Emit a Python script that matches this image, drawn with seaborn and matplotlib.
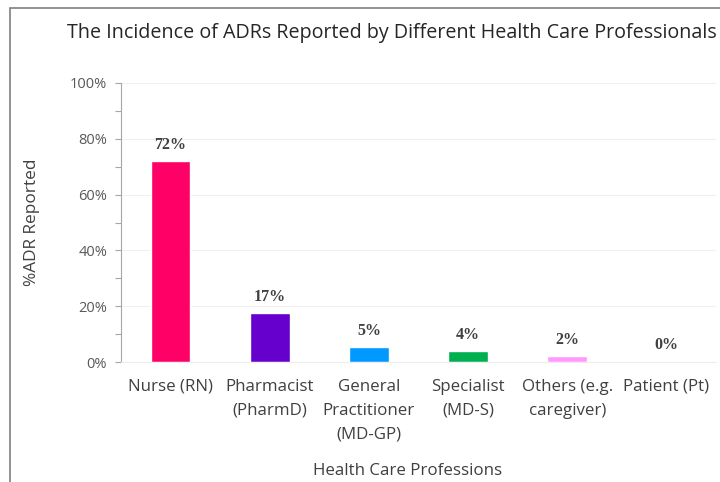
import matplotlib
matplotlib.use("Agg")
import matplotlib.pyplot as plt
import seaborn as sns
import pandas as pd
from matplotlib.patches import Rectangle

categories = ["Nurse (RN)", "Pharmacist\n(PharmD)", "General\nPractitioner\n(MD-GP)",
              "Specialist\n(MD-S)", "Others (e.g.\ncaregiver)", "Patient (Pt)"]
values = [72.0, 17.5, 5.3, 3.8, 2.1, 0.3]
value_labels = ["72%", "17%", "5%", "4%", "2%", "0%"]
colors = ["#FF0066", "#6600CC", "#0099FF", "#00B050", "#FF99FF", "#FFFF00"]
yticks = [0, 20, 40, 60, 80, 100]

df = pd.DataFrame({"cat": categories, "val": values})

sns.set_theme(style="white")
plt.rcParams['font.family'] = ["Open Sans", "DejaVu Sans"]

fig = plt.figure(figsize=(7.2, 4.82), dpi=100)
ax = fig.add_axes([121/720, 1-362/482, (716-121)/720, (362-83)/482])

sns.barplot(data=df, x="cat", y="val", hue="cat", palette=colors, legend=False,
            width=0.4, saturation=1, ax=ax)

ax.set_xlim(-0.5, 5.5)
ax.set_ylim(0, 100)
ax.set_yticks(yticks)
ax.set_yticklabels([f"{t}%" for t in yticks], fontsize=10.5, color="#595959")
ax.set_yticks(range(0, 101, 10), minor=True)
ax.tick_params(axis="y", which="both", direction="out", length=4, width=0.8,
               color="#A6A6A6", left=True, pad=6)
ax.tick_params(axis="x", length=0, pad=12)
ax.set_xticks(range(len(categories)))
ax.set_xticklabels(categories, fontsize=12.2, color="#404040", linespacing=1.68)
for t in yticks[1:]:
    ax.axhline(t, color="#F0F0F0", lw=0.8, zorder=0)
for s in ["top", "right"]:
    ax.spines[s].set_visible(False)
ax.spines["left"].set_color("#A6A6A6")
ax.spines["left"].set_linewidth(0.8)
ax.spines["bottom"].set_color("#EDEDED")
ax.spines["bottom"].set_linewidth(0.8)

for i, (v, lab) in enumerate(zip(values, value_labels)):
    ax.text(i, v + 3.0, lab, ha="center", va="bottom", fontsize=11.5,
            fontweight="bold", family="Liberation Serif", color="#404040")

ax.set_xlabel("Health Care Professions", fontsize=12.2, color="#404040")
ax.xaxis.set_label_coords((408-121)/595, -(463-362)/279)
ax.set_ylabel("%ADR Reported", fontsize=12.4, color="#404040")
ax.yaxis.set_label_coords(-(121-40)/595, 0.5)

fig.text(67/720, 1-33/482, "The Incidence of ADRs Reported by Different Health Care Professionals",
         fontsize=14.2, color="#262626", ha="left", va="center")

fig.patches.append(Rectangle((10/720, -0.1), 1.2, 1-8/482+0.1, transform=fig.transFigure,
                             fill=False, edgecolor="#7F7F7F", lw=1.2))

fig.savefig("out.png", dpi=100)
